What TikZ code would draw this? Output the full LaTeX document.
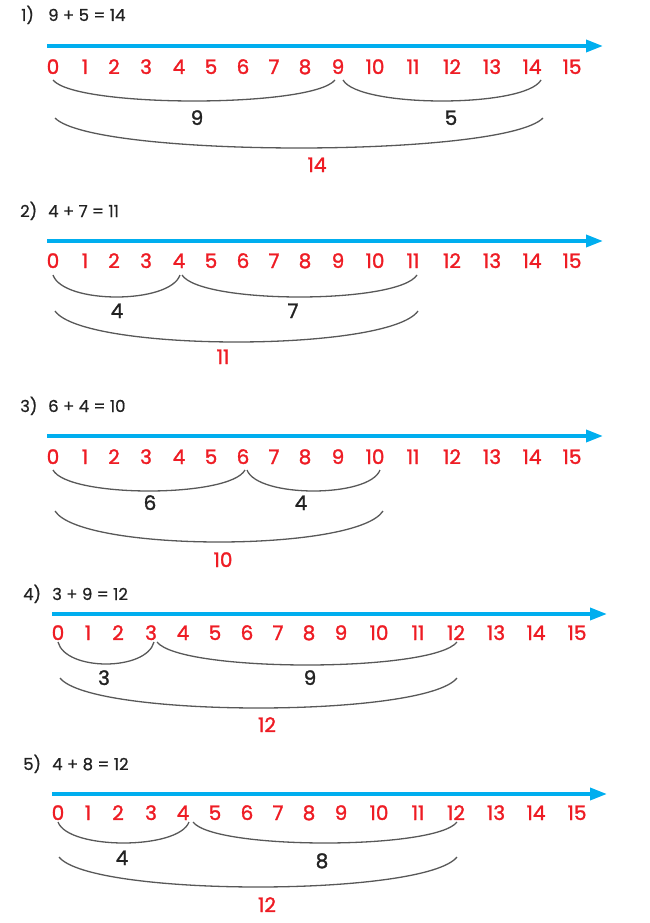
\documentclass[tikz,border=0pt]{standalone}
\usepackage{fontspec}
\setmainfont{Poppins}
\newfontfamily\numfont{Poppins}[FakeBold=1.5]
\newfontfamily\ttlfont{Poppins}[FakeBold=0.8]
\usetikzlibrary{arrows.meta,calc}
\definecolor{numred}{HTML}{EE1C24}
\definecolor{lineblue}{HTML}{00AEEF}
\definecolor{arcgray}{HTML}{585858}
\definecolor{txt}{HTML}{222222}
\newcommand\mkhop[5]{% name, x1, x2, ytop, ybot
  \pgfmathsetmacro\hw{0.08*(#3-#2)}
  \pgfmathsetmacro\cy{#4+1.333*(#5-#4)}
  \coordinate (#1-a) at (#2,#4);
  \coordinate (#1-b) at (#3,#4);
  \draw[arcline] (#1-a) .. controls ($(#1-a)+(\hw,\cy-#4)$) and ($(#1-b)+(-\hw,\cy-#4)$) .. (#1-b);}
\begin{document}
\begin{tikzpicture}[x=1pt,y=-1pt,
  numlbl/.style={anchor=base, inner sep=0pt, text=numred, font=\numfont\fontsize{20}{20}\selectfont},
  partlbl/.style={anchor=base, inner sep=0pt, text=txt, font=\numfont\fontsize{20}{20}\selectfont},
  sumlbl/.style={anchor=base, inner sep=0pt, text=numred, font=\numfont\fontsize{20}{20}\selectfont},
  ttl/.style={anchor=base west, inner sep=0pt, text=txt, font=\ttlfont\fontsize{16.5}{16.5}\selectfont},
  axis/.style={draw=lineblue, line width=3.5pt, -{Triangle[length=17pt,width=12pt]}},
  arcline/.style={draw=arcgray, line width=1.3pt}]
\useasboundingbox (0,0) rectangle (650,923);

% ---------- section 1 ----------
\node[ttl] (t1) at (21,21) {1)};
\node[ttl] (e1) at (48,21) {9 + 5 = 14};
\coordinate (a1s) at (47,46); \coordinate (a1e) at (603,46);
\draw[axis] (a1s) -- (a1e);
\foreach \x [count=\i from 0] in {53,85,114,146,179,211,243,274,305,338,375,413,452,492,532,572}
  \node[numlbl] (n1-\i) at (\x,74) {\i};
\mkhop{h1a}{53}{335}{80}{101}
\mkhop{h1b}{343}{541}{80}{101}
\mkhop{h1c}{55}{543}{118}{148}
\node[partlbl] (p1a) at (197,125) {9};
\node[partlbl] (p1b) at (451,125) {5};
\node[sumlbl] (s1) at (317,172) {14};

% ---------- section 2 ----------
\node[ttl] (t2) at (20,217) {2)};
\node[ttl] (e2) at (48,217) {4 + 7 = 11};
\coordinate (a2s) at (47,241); \coordinate (a2e) at (603,241);
\draw[axis] (a2s) -- (a2e);
\foreach \x [count=\i from 0] in {53,85,114,146,179,211,243,274,305,338,375,413,452,492,532,572}
  \node[numlbl] (n2-\i) at (\x,268) {\i};
\mkhop{h2a}{53}{180}{275}{297}
\mkhop{h2b}{182}{417}{275}{297}
\mkhop{h2c}{55}{418}{311}{342}
\node[partlbl] (p2a) at (117,318) {4};
\node[partlbl] (p2b) at (293,318) {7};
\node[sumlbl] (s2) at (223,364) {11};

% ---------- section 3 ----------
\node[ttl] (t3) at (20,412) {3)};
\node[ttl] (e3) at (48,412) {6 + 4 = 10};
\coordinate (a3s) at (47,436); \coordinate (a3e) at (603,436);
\draw[axis] (a3s) -- (a3e);
\foreach \x [count=\i from 0] in {53,85,114,146,179,211,243,274,305,338,375,413,452,492,532,572}
  \node[numlbl] (n3-\i) at (\x,464) {\i};
\mkhop{h3a}{53}{245}{470}{491}
\mkhop{h3b}{247}{380}{470}{491}
\mkhop{h3c}{55}{383}{511}{542}
\node[partlbl] (p3a) at (150,510) {6};
\node[partlbl] (p3b) at (301,510) {4};
\node[sumlbl] (s3) at (223,567) {10};

% ---------- section 4 ----------
\node[ttl] (t4) at (23,600) {4)};
\node[ttl] (e4) at (52,600) {3 + 9 = 12};
\coordinate (a4s) at (52,614); \coordinate (a4e) at (607,614);
\draw[axis] (a4s) -- (a4e);
\foreach \x [count=\i from 0] in {58,88,118,151,183,215,247,278,309,341,379,418,456,496,536,577}
  \node[numlbl] (n4-\i) at (\x,640) {\i};
\mkhop{h4a}{58}{154}{642}{664}
\mkhop{h4b}{157}{457}{642}{665}
\mkhop{h4c}{60}{457}{678}{708}
\node[partlbl] (p4a) at (104,685) {3};
\node[partlbl] (p4b) at (310,685) {9};
\node[sumlbl] (s4) at (267,732) {12};

% ---------- section 5 ----------
\node[ttl] (t5) at (23,770) {5)};
\node[ttl] (e5) at (52,770) {4 + 8 = 12};
\coordinate (a5s) at (52,794); \coordinate (a5e) at (607,794);
\draw[axis] (a5s) -- (a5e);
\foreach \x [count=\i from 0] in {58,88,118,151,183,215,247,278,309,341,379,418,456,496,536,577}
  \node[numlbl] (n5-\i) at (\x,820) {\i};
\mkhop{h5a}{58}{189}{822}{843}
\mkhop{h5b}{193}{457}{822}{843}
\mkhop{h5c}{59}{457}{857}{887}
\node[partlbl] (p5a) at (122,865) {4};
\node[partlbl] (p5b) at (322,868) {8};
\node[sumlbl] (s5) at (267,912) {12};
\end{tikzpicture}
\end{document}
